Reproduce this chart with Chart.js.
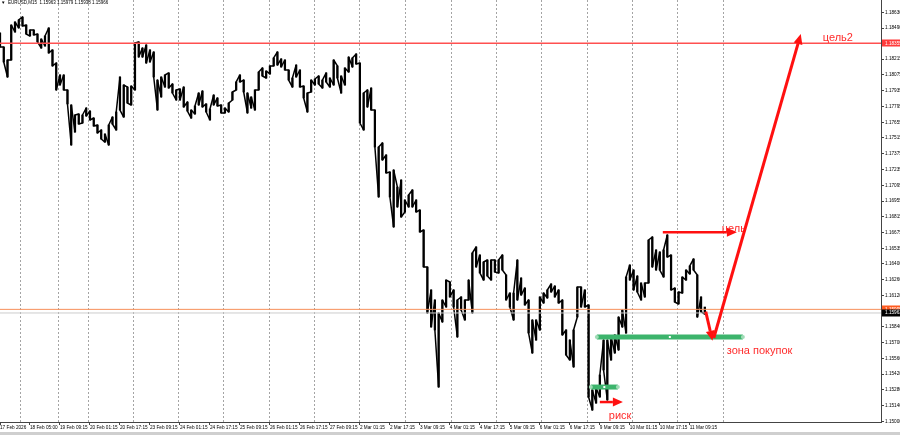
<!DOCTYPE html>
<html lang="ru">
<head>
<meta charset="UTF-8">
<script src="https://cdn.jsdelivr.net/npm/chart.js"></script>
<title>EURUSD,M15</title>
<style>
html, body { margin: 0; padding: 0; background: #fff; overflow: hidden; }
canvas { display: block; }
</style>
</head>
<body>
<canvas id="eurusd" width="900" height="435"></canvas>
<script>
var stepHours = 2;

var highs = [
	1.18446,1.18322,1.18207,1.18517,1.18544,1.18562,1.18588,1.18517,1.18473,1.18473,
	1.18437,1.18393,1.18420,1.18491,1.18296,1.18180,1.18074,1.18074,1.17941,1.17808,
	1.17719,1.17728,1.17719,1.17781,1.17754,1.17692,1.17630,1.17586,1.17550,1.17630,
	1.17701,1.17746,1.18056,1.17985,1.17967,1.17976,1.18358,1.18367,1.18313,1.18340,
	1.18296,1.18278,1.18029,1.18056,1.18074,1.18092,1.17994,1.17941,1.17950,1.17967,
	1.17834,1.17763,1.17799,1.17914,1.17932,1.17817,1.17772,1.17896,1.17870,1.17808,
	1.17781,1.17825,1.17923,1.18012,1.18074,1.18029,1.17914,1.17879,1.17941,1.18100,
	1.18136,1.18109,1.18154,1.18225,1.18278,1.18216,1.18207,1.18118,1.18047,1.18162,
	1.18118,1.17976,1.17914,1.18029,1.18038,1.18065,1.18029,1.18092,1.18047,1.18207,
	1.18154,1.18065,1.18136,1.18233,1.18225,1.18260,1.18180,1.17914,1.17941,1.17958,
	1.17763,1.17435,1.17471,1.17364,1.17213,1.17231,1.17080,1.17142,1.16965,1.17009,
	1.17054,1.16965,1.16876,1.16699,1.16371,1.16167,1.16078,1.15963,1.16078,1.16255,
	1.16238,1.16167,1.16078,1.16105,1.16078,1.16255,1.16495,1.16548,1.16477,1.16415,
	1.16433,1.16433,1.16433,1.16433,1.16477,1.16300,1.16140,1.16140,1.16433,1.16273,
	1.16184,1.16078,1.15901,1.15901,1.16105,1.16140,1.16167,1.16220,1.16202,1.16167,
	1.16078,1.15812,1.15723,1.15812,1.16193,1.16193,1.16167,1.16034,1.15280,1.15297,
	1.15413,1.15723,1.15723,1.15750,1.15768,1.15927,1.15989,1.16282,1.16388,1.16344,
	1.16291,1.16229,1.16229,1.16610,1.16637,1.16522,1.16504,1.16522,1.16655,1.16477,
	1.16184,1.16149,1.16282,1.16344,1.16380,1.16442,1.16300,1.16105,1.16016
];
var lows = [
	1.18322,1.18189,1.18056,1.18207,1.18455,1.18491,1.18508,1.18437,1.18420,1.18429,
	1.18367,1.18313,1.18331,1.18269,1.18154,1.17941,1.17985,1.17941,1.17817,1.17453,
	1.17568,1.17639,1.17648,1.17710,1.17675,1.17621,1.17559,1.17506,1.17479,1.17453,
	1.17639,1.17586,1.17763,1.17701,1.17825,1.17808,1.17941,1.18233,1.18233,1.18180,
	1.18189,1.18056,1.17763,1.17879,1.17967,1.17958,1.17914,1.17852,1.17852,1.17790,
	1.17754,1.17692,1.17728,1.17808,1.17790,1.17746,1.17675,1.17808,1.17799,1.17737,
	1.17737,1.17746,1.17852,1.17941,1.18012,1.17923,1.17737,1.17781,1.17763,1.17941,
	1.18065,1.18047,1.18083,1.18154,1.18162,1.18145,1.18118,1.18029,1.17967,1.18056,
	1.17967,1.17870,1.17746,1.17923,1.17985,1.17994,1.17958,1.18012,1.17967,1.17985,
	1.18047,1.17914,1.17985,1.18100,1.18145,1.18171,1.17648,1.17586,1.17790,1.17763,
	1.17435,1.16992,1.17320,1.17205,1.16992,1.16726,1.16903,1.16814,1.16859,1.16903,
	1.16903,1.16859,1.16681,1.16371,1.15963,1.15839,1.15812,1.15306,1.15883,1.16016,
	1.16105,1.16016,1.15750,1.15989,1.15901,1.16078,1.15963,1.16371,1.16318,1.16255,
	1.16291,1.16255,1.16326,1.16318,1.16344,1.16078,1.16016,1.15901,1.16078,1.16122,
	1.16034,1.15785,1.15608,1.15723,1.15812,1.16051,1.16096,1.16149,1.16105,1.16051,
	1.15768,1.15590,1.15546,1.15484,1.15927,1.16016,1.16016,1.15218,1.15102,1.15164,
	1.15218,1.15457,1.15191,1.15546,1.15608,1.15635,1.15839,1.15785,1.16255,1.16167,
	1.16149,1.16078,1.16105,1.16229,1.16371,1.16344,1.16344,1.16282,1.16459,1.16167,
	1.16060,1.16043,1.16140,1.16255,1.16309,1.16344,1.15927,1.15972,1.15954
];

// time labels, one every 16 trading hours
var labelStep = 16;
var timeLabels = [
	"17 Feb 2026","18 Feb 05:00","19 Feb 09:15","20 Feb 01:15","20 Feb 17:15","23 Feb 09:15",
	"24 Feb 01:15","24 Feb 17:15","25 Feb 09:15","26 Feb 01:15","26 Feb 17:15","27 Feb 09:15",
	"2 Mar 01:15","2 Mar 17:15","3 Mar 09:15","4 Mar 01:15","4 Mar 17:15","5 Mar 09:15",
	"6 Mar 01:15","6 Mar 17:15","9 Mar 09:15","10 Mar 01:15","10 Mar 17:15","11 Mar 09:15"
];

// day separators (trading hours from start)
var daySeparators = [10.7, 30.9, 46.9, 70.9, 94.9, 118.9, 143.5, 167.5, 191.5, 216.0, 240.5, 264.5, 288.5, 313.1, 337.1, 361.1, 385.6];

var priceTicks = [
	1.15000,1.15140,1.15280,1.15420,1.15560,1.15700,1.15840,1.16120,1.16260,1.16400,
	1.16535,1.16675,1.16815,1.16955,1.17095,1.17235,1.17375,1.17515,1.17655,1.17795,
	1.17935,1.18075,1.18215,1.18490,1.18630
];

var target2 = 1.18355;
var markLevel = 1.15995;
var bidPrice = 1.15963;
var header = "EURUSD,M15  1.15963 1.15979 1.15938 1.15966";

// drawn analysis, in [hours, price]
var arrows = [
	[[380.8, 1.15741], [427.2, 1.18437]],
	[[376.5, 1.15975], [380.1, 1.15717]],
	[[353.6, 1.16678], [393.1, 1.16678]],
	[[320.0, 1.15173], [332.3, 1.15173]]
];
var zones = [
	[318.4, 396.3, 1.15750],
	[315.2, 329.6, 1.15306]
];
var notes = [
	["цель2", 438.9, 1.18402],
	["цель", 385.1, 1.16708],
	["зона покупок", 387.7, 1.15626],
	["риск", 324.8, 1.15049]
];

var xMax = 470;
var yMin = 1.14996, yMax = 1.18739;
var tinyFont = '"Liberation Sans", Arial, sans-serif';

var bars = highs.map(function(h, i) {
	return {x: i * stepHours, y: [lows[i], h]};
});
// the same bars walked as one path, so that the dense M15 look is kept
var barPath = [];
highs.forEach(function(h, i) {
	var x = i * stepHours;
	var up = i + 1 < highs.length ? (highs[i + 1] + lows[i + 1]) > (h + lows[i]) : true;
	if (up) barPath.push({x: x, y: lows[i]}, {x: x, y: h});
	else barPath.push({x: x, y: h}, {x: x, y: lows[i]});
});
function level(v) {
	return [{x: 0, y: v}, {x: xMax, y: v}];
}

function drawArrow(ctx, x1, y1, x2, y2, head) {
	var a = Math.atan2(y2 - y1, x2 - x1);
	var bx = x2 - head * Math.cos(a), by = y2 - head * Math.sin(a);
	var s = head * 0.45;
	ctx.beginPath();
	ctx.moveTo(x1, y1);
	ctx.lineTo(bx, by);
	ctx.stroke();
	ctx.beginPath();
	ctx.moveTo(x2, y2);
	ctx.lineTo(bx + s * Math.sin(a), by - s * Math.cos(a));
	ctx.lineTo(bx - s * Math.sin(a), by + s * Math.cos(a));
	ctx.closePath();
	ctx.fill();
}

var overlay = {
	id: 'overlay',
	beforeDatasetsDraw: function(chart) {
		var ctx = chart.ctx, sx = chart.scales.x, a = chart.chartArea;
		ctx.save();
		ctx.strokeStyle = '#a4a4a4';
		ctx.lineWidth = 1;
		ctx.setLineDash([2, 2]);
		daySeparators.forEach(function(h) {
			var px = Math.round(sx.getPixelForValue(h)) + 0.5;
			ctx.beginPath();
			ctx.moveTo(px, a.top);
			ctx.lineTo(px, a.bottom);
			ctx.stroke();
		});
		ctx.restore();
	},
	afterDatasetsDraw: function(chart) {
		var ctx = chart.ctx, sx = chart.scales.x, sy = chart.scales.y;
		ctx.save();
		// green zones
		zones.forEach(function(z) {
			var x1 = sx.getPixelForValue(z[0]), x2 = sx.getPixelForValue(z[1]);
			var y = sy.getPixelForValue(z[2]);
			ctx.strokeStyle = '#3cb46c';
			ctx.lineWidth = 5;
			ctx.beginPath();
			ctx.moveTo(x1, y);
			ctx.lineTo(x2, y);
			ctx.stroke();
			ctx.fillStyle = '#9fdcb6';
			[x1, x2].forEach(function(px) {
				ctx.beginPath();
				ctx.arc(px, y, 2, 0, Math.PI * 2);
				ctx.fill();
			});
			ctx.fillStyle = '#fff';
			ctx.fillRect((x1 + x2) / 2 - 1, y - 1, 2, 2);
		});
		// texts
		ctx.fillStyle = '#ff2b2b';
		ctx.font = '11px ' + tinyFont;
		ctx.textBaseline = 'middle';
		ctx.textAlign = 'left';
		notes.forEach(function(n) {
			ctx.fillText(n[0], sx.getPixelForValue(n[1]), sy.getPixelForValue(n[2]));
		});
		// red arrows
		ctx.strokeStyle = '#ff1010';
		ctx.fillStyle = '#ff1010';
		arrows.forEach(function(r, i) {
			ctx.lineWidth = i < 2 ? 3 : 2.5;
			drawArrow(ctx,
				sx.getPixelForValue(r[0][0]), sy.getPixelForValue(r[0][1]),
				sx.getPixelForValue(r[1][0]), sy.getPixelForValue(r[1][1]), 10);
		});
		ctx.restore();
	},
	afterDraw: function(chart) {
		var ctx = chart.ctx, sy = chart.scales.y, a = chart.chartArea;
		ctx.save();
		ctx.font = '4.7px ' + tinyFont;
		ctx.textBaseline = 'middle';
		ctx.textAlign = 'left';
		[[target2, '#ff3b3b'], [markLevel, '#ff5a1f'], [bidPrice, '#000']].forEach(function(m) {
			var y = sy.getPixelForValue(m[0]);
			ctx.fillStyle = m[1];
			ctx.fillRect(a.right + 1, Math.round(y) - 3.5, 18, 7);
			ctx.fillStyle = '#fff';
			ctx.fillText(m[0].toFixed(5), a.right + 4, y);
		});
		// header
		ctx.fillStyle = '#000';
		ctx.font = '4.5px ' + tinyFont;
		ctx.fillText('▼', 1, 3);
		ctx.fillText(header, 8, 3);
		// window strip at the bottom
		ctx.fillStyle = '#cfcfcf';
		ctx.fillRect(0, 432, 900, 3);
		ctx.restore();
	}
};

new Chart(document.getElementById('eurusd'), {
	type: 'bar',
	data: {
		datasets: [
			{type: 'line', data: level(target2), borderColor: '#ff5050', borderWidth: 1.6, pointRadius: 0, order: 0},
			{type: 'line', data: level(markLevel), borderColor: '#f7905a', borderWidth: 1, pointRadius: 0, order: 0},
			{type: 'line', data: level(bidPrice), borderColor: '#cccccc', borderWidth: 1, pointRadius: 0, order: 0},
			{type: 'line', data: barPath, borderColor: '#000', borderWidth: 1.5, pointRadius: 0, tension: 0, borderJoinStyle: 'round', order: 1},
			{type: 'bar', data: bars, backgroundColor: '#000', borderWidth: 0, barThickness: 1.6, order: 1}
		]
	},
	options: {
		responsive: false,
		animation: false,
		events: [],
		layout: {padding: 0},
		plugins: {legend: {display: false}, tooltip: {enabled: false}},
		scales: {
			x: {
				type: 'linear', min: 0, max: xMax, offset: false,
				grid: {display: true, drawOnChartArea: false, drawTicks: true, tickLength: 3, color: '#444', offset: false},
				border: {display: true, color: '#444'},
				ticks: {
					autoSkip: false, maxRotation: 0, minRotation: 0, align: 'start', padding: 0,
					color: '#000', font: {size: 4.7, family: tinyFont},
					callback: function(v, i) { return timeLabels[i]; }
				},
				afterBuildTicks: function(s) {
					s.ticks = timeLabels.map(function(t, i) { return {value: i * labelStep}; });
				},
				afterFit: function(s) { s.height = 13; s.paddingLeft = 0; s.paddingRight = 0; }
			},
			y: {
				position: 'right', min: yMin, max: yMax, beginAtZero: false,
				grid: {display: true, drawOnChartArea: false, drawTicks: true, tickLength: 3, color: '#444'},
				border: {display: true, color: '#444'},
				ticks: {
					padding: 1, color: '#000', font: {size: 4.7, family: tinyFont},
					callback: function(v) { return v.toFixed(5); }
				},
				afterBuildTicks: function(s) {
					s.ticks = priceTicks.map(function(p) { return {value: p}; });
				},
				afterFit: function(s) { s.width = 19; s.paddingTop = 0; s.paddingBottom = 0; }
			}
		}
	},
	plugins: [overlay]
});
</script>
</body>
</html>
